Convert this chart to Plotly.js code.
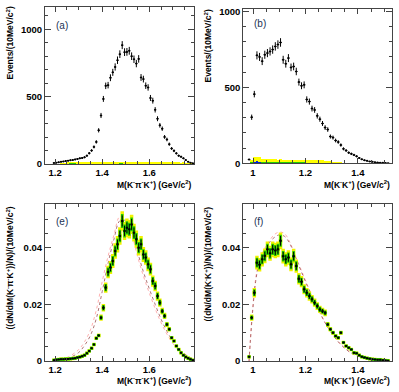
<!DOCTYPE html>
<html>
<head>
<meta charset="utf-8">
<script src="https://cdn.plot.ly/plotly-3.0.1.min.js"></script>
<style>
  html, body { margin: 0; padding: 0; background: #fff; }
  #chart { width: 399px; height: 392px; }
</style>
</head>
<body>
<div id="chart"></div>
<script>
// bin centres, 10 MeV bins
const massKpiK = [1.195,1.205,1.215,1.225,1.235,1.245,1.255,1.265,1.275,1.285,1.295,1.305,1.315,1.325,1.335,1.345,1.355,1.365,1.375,1.385,
  1.395,1.405,1.415,1.425,1.435,1.445,1.455,1.465,1.475,1.485,1.495,1.505,1.515,1.525,1.535,1.545,1.555,1.565,1.575,1.585,
  1.595,1.605,1.615,1.625,1.635,1.645,1.655,1.665,1.675,1.685,1.695,1.705,1.715,1.725,1.735,1.745,1.755,1.765,1.775,1.785];
const massKK = [0.985,0.995,1.005,1.015,1.025,1.035,1.045,1.055,1.065,1.075,1.085,1.095,1.105,1.115,1.125,1.135,1.145,1.155,
  1.165,1.175,1.185,1.195,1.205,1.215,1.225,1.235,1.245,1.255,1.265,1.275,1.285,1.295,1.305,1.315,1.325,1.335,1.345,1.355,
  1.365,1.375,1.385,1.395,1.405,1.415,1.425,1.435,1.445,1.455,1.465,1.475,1.485,1.495,1.505,1.515];

// (a) events per bin
const eventsA = [8,10,13,16,19,22,25,28,30,34,38,42,45,50,62,80,100,127,164,250,
  360,483,580,585,640,680,720,770,815,882,830,832,840,800,777,745,780,642,630,581,
  568,490,470,402,336,287,262,201,182,147,115,98,79,62,54,42,29,17,10,5];
const yellowA = [0,0,0,5,8,10,12,12,13,14,14,15,14,15,13,14,15,14,13,15,
  14,15,16,15,14,16,15,14,15,16,15,14,15,15,14,16,15,14,13,15,
  14,15,14,13,14,15,13,14,12,13,14,12,13,12,11,12,10,9,8,5];
const greenA = [0,0,0,0,0,0,0,4,6,5,0,0,0,0,0,0,0,0,0,0,
  0,0,0,0,0,0,0,0,5,6,0,0,0,0,0,0,0,0,0,0,
  0,0,0,0,0,0,0,0,0,0,0,0,0,0,0,0,0,0,0,0];

// (b) events per bin
const eventsB = [25,303,455,710,700,672,714,725,736,748,769,781,795,681,655,692,631,637,
  604,534,510,516,420,406,360,351,312,290,262,235,222,176,169,150,140,120,95,84,
  70,62,55,46,35,26,20,16,12,10,7,5,4,3,2,1];
const yellowB = [0,20,44,44,40,30,28,27,28,26,27,25,26,24,25,23,24,22,
  24,22,23,24,22,24,22,23,21,22,20,18,15,12,10,9,8,6,4,0,
  0,0,0,0,0,0,0,0,0,0,0,0,0,0,0,0];
const greenB = [0,8,10,11,10,10,10,9,10,10,9,10,10,9,10,9,10,9,
  9,10,9,8,0,0,0,0,0,0,0,0,0,0,0,0,0,0,0,0,
  0,0,0,0,0,0,0,0,0,0,0,0,0,0,0,0];
const blueB = [0,0,10,12,8,0,0,0,0,0,0,0,0,0,0,0,0,0,
  0,0,0,0,0,0,0,0,0,0,0,0,0,0,0,0,0,0,0,0,
  0,0,0,0,0,0,0,0,0,0,0,0,0,0,0,0];

// (e) normalised spectrum
const fracE = [0.0003,0.0004,0.0005,0.0006,0.0006,0.0007,0.0007,0.0008,0.0009,0.0010,0.0012,0.0014,0.0017,0.0020,0.0027,0.0035,0.0045,0.0058,0.0080,0.0090,
  0.0153,0.0188,0.0259,0.0314,0.0330,0.0353,0.0388,0.0412,0.0441,0.0494,0.0459,0.0470,0.0465,0.0482,0.0453,0.0430,0.0400,0.0412,0.0376,0.0365,
  0.0341,0.0324,0.0282,0.0265,0.0229,0.0206,0.0176,0.0159,0.0129,0.0112,0.0082,0.0071,0.0053,0.0041,0.0029,0.0020,0.0014,0.0010,0.0006,0.0003];
const curveMassE = [1.20,1.25,1.30,1.325,1.35,1.375,1.40,1.425,1.45,1.475,1.50,1.525,1.55,1.575,1.60,1.625,1.65,1.675,1.70,1.725,1.75,1.775,1.79];
const mcPinkE = [0.0002,0.0012,0.0040,0.0068,0.0110,0.0180,0.0280,0.0370,0.0445,0.0510,0.0500,0.0450,0.0370,0.0300,0.0240,0.0185,0.0135,0.0095,0.0062,0.0038,0.0022,0.0010,0.0004];
const mcDarkE = [0.0001,0.0008,0.0030,0.0055,0.0090,0.0150,0.0245,0.0345,0.0430,0.0495,0.0495,0.0455,0.0385,0.0315,0.0255,0.0200,0.0148,0.0105,0.0070,0.0043,0.0025,0.0011,0.0004];

// (f) normalised spectrum
const fracF = [0.0015,0.0153,0.0241,0.0347,0.0340,0.0359,0.0371,0.0394,0.0380,0.0394,0.0390,0.0394,0.0424,0.0370,0.0359,0.0365,0.0341,0.0370,
  0.0335,0.0290,0.0280,0.0253,0.0241,0.0229,0.0218,0.0206,0.0194,0.0182,0.0176,0.0170,0.0129,0.0112,0.0100,0.0088,0.0082,0.0100,0.0065,0.0053,
  0.0047,0.0041,0.0029,0.0027,0.0020,0.0015,0.0012,0.0010,0.0008,0.0006,0.0005,0.0004,0.0004,0.0003,0.0002,0.0001];
const curveMassF = [0.985,0.99,1.0,1.01,1.02,1.04,1.06,1.08,1.10,1.12,1.14,1.16,1.18,1.20,1.225,1.25,1.275,1.30,1.325,1.35,1.375,1.40,1.45,1.50];
const mcPinkF = [0,0.008,0.020,0.029,0.034,0.039,0.042,0.0445,0.0455,0.045,0.042,0.0375,0.033,0.0285,0.023,0.018,0.0135,0.0098,0.0068,0.0045,0.0028,0.0017,0.0006,0.0001];
const mcDarkF = [0,0.007,0.019,0.028,0.033,0.038,0.0415,0.0435,0.0445,0.044,0.0415,0.037,0.0325,0.028,0.0228,0.018,0.0135,0.0098,0.0068,0.0045,0.0028,0.0017,0.0006,0.0001];

const W = 399, H = 392;
const px = v => v / W;
const py = v => 1 - v / H;

function bars(x, y, color, xa, ya) {
  return { type: "bar", x, y, xaxis: xa, yaxis: ya, width: 0.01, marker: { color, line: { width: 0 } }, hoverinfo: "skip" };
}

function counts(x, y, xa, ya) {
  return {
    type: "scatter", mode: "markers", x, y, xaxis: xa, yaxis: ya,
    marker: { color: "#000", size: 2 },
    error_y: { type: "sqrt", color: "#000", thickness: 1, width: 0 },
    error_x: { type: "constant", value: 0.005, color: "#000", thickness: 1, width: 0 }
  };
}

function normalised(x, y, xa, ya) {
  return [
    { type: "scatter", mode: "markers", x, y, xaxis: xa, yaxis: ya,
      marker: { color: "#f2f200", size: 3.5, symbol: "square" },
      error_y: { type: "percent", value: 7, color: "#f2f200", thickness: 3.5, width: 0 } },
    { type: "scatter", mode: "markers", x, y, xaxis: xa, yaxis: ya,
      marker: { color: "#22cc00", size: 3, symbol: "square" },
      error_y: { type: "percent", value: 5, color: "#22cc00", thickness: 2.5, width: 0 } },
    { type: "scatter", mode: "markers", x, y, xaxis: xa, yaxis: ya,
      marker: { color: "#000", size: 2, symbol: "square" },
      error_y: { type: "percent", value: 4, color: "#000", thickness: 1, width: 0 },
      error_x: { type: "constant", value: 0.005, color: "#000", thickness: 1, width: 0 } }
  ];
}

function curve(x, y, color, xa, ya) {
  return { type: "scatter", mode: "lines", x, y, xaxis: xa, yaxis: ya,
    line: { color, width: 0.8, dash: "dot", shape: "spline" } };
}

const traces = [
  bars(massKpiK, yellowA, "#ffff00", "x", "y"),
  bars(massKpiK, greenA, "#22cc00", "x", "y"),
  counts(massKpiK, eventsA, "x", "y"),

  bars(massKK, yellowB, "#ffff00", "x2", "y2"),
  bars(massKK, greenB, "#22cc00", "x2", "y2"),
  bars(massKK, blueB, "#0022dd", "x2", "y2"),
  counts(massKK, eventsB, "x2", "y2"),

  curve(curveMassE, mcPinkE, "#ff9a9a", "x3", "y3"),
  curve(curveMassE, mcDarkE, "#9a5050", "x3", "y3"),
  ...normalised(massKpiK, fracE, "x3", "y3"),

  curve(curveMassF, mcPinkF, "#ff9a9a", "x4", "y4"),
  curve(curveMassF, mcDarkF, "#9a5050", "x4", "y4"),
  ...normalised(massKK, fracF, "x4", "y4")
];

const tickFont = { family: "Liberation Sans, Arial, sans-serif", size: 9.5, color: "#000", weight: "bold" };

function xAxis(domain, range, anchor) {
  return {
    domain, range, anchor, dtick: 0.2, tick0: 0,
    ticks: "inside", ticklen: 5, tickwidth: 1, tickcolor: "#444",
    minor: { dtick: 0.05, ticks: "inside", ticklen: 3, tickcolor: "#444" },
    showline: true, mirror: "ticks", linecolor: "#444", linewidth: 1,
    showgrid: false, zeroline: false, tickfont: tickFont, fixedrange: true
  };
}

function yAxis(domain, range, anchor, dtick, minor) {
  return {
    domain, range, anchor, dtick,
    ticks: "inside", ticklen: 6, tickwidth: 1, tickcolor: "#444",
    minor: { dtick: minor, ticks: "inside", ticklen: 3, tickcolor: "#444" },
    showline: true, mirror: "ticks", linecolor: "#444", linewidth: 1,
    showgrid: false, zeroline: false, tickfont: tickFont, fixedrange: true
  };
}

const leftX = [px(45), px(194)];
const rightX = [px(243.3), px(392)];
const topY = [py(164), py(7)];
const topYb = [py(163.3), py(9)];
const botY = [py(361), py(204.3)];

const titleFont = { family: "Liberation Sans, Arial, sans-serif", size: 8.5, color: "#000", weight: "bold" };
const labelFont = { family: "Liberation Sans, Arial, sans-serif", size: 10, color: "#223355" };

const kpik = "M(K<sup>-</sup>π<sup>-</sup>K<sup>+</sup>) (GeV/c<sup>2</sup>)";
const kk = "M(K<sup>-</sup>K<sup>+</sup>) (GeV/c<sup>2</sup>)";

const annotations = [
  { text: kpik, x: px(194), y: py(184), xanchor: "right", yanchor: "middle" },
  { text: kk, x: px(392), y: py(184), xanchor: "right", yanchor: "middle" },
  { text: kpik, x: px(194), y: py(380), xanchor: "right", yanchor: "middle" },
  { text: kk, x: px(392), y: py(380), xanchor: "right", yanchor: "middle" },
  { text: "Events/(10MeV/c<sup>2</sup>)", x: px(10), y: py(5), xanchor: "center", yanchor: "top", textangle: -90 },
  { text: "Events/(10MeV/c<sup>2</sup>)", x: px(208), y: py(8), xanchor: "center", yanchor: "top", textangle: -90 },
  { text: "((dN/dM(K<sup>-</sup>π<sup>-</sup>K<sup>+</sup>))/N)/(10MeV/c<sup>2</sup>)", x: px(10), y: py(205), xanchor: "center", yanchor: "top", textangle: -90 },
  { text: "((dN/dM(K<sup>-</sup>K<sup>+</sup>))/N)/(10MeV/c<sup>2</sup>)", x: px(208), y: py(205), xanchor: "center", yanchor: "top", textangle: -90 }
].map(a => ({ ...a, xref: "paper", yref: "paper", showarrow: false, font: titleFont }));

[["(a)", 54, 25], ["(b)", 252, 24], ["(e)", 54, 221], ["(f)", 252, 221]].forEach(([t, x, y]) => {
  annotations.push({ text: t, x: px(x), y: py(y), xref: "paper", yref: "paper", xanchor: "left", yanchor: "middle", showarrow: false, font: labelFont });
});

const layout = {
  width: W, height: H,
  margin: { l: 0, r: 0, t: 0, b: 0 },
  paper_bgcolor: "#fff", plot_bgcolor: "#fff",
  showlegend: false, barmode: "overlay", bargap: 0,
  xaxis: xAxis(leftX, [1.157, 1.79], "y"),
  yaxis: yAxis(topY, [0, 1165], "x", 500, 100),
  xaxis2: xAxis(rightX, [0.963, 1.53], "y2"),
  yaxis2: yAxis(topYb, [0, 1015], "x2", 500, 100),
  xaxis3: xAxis(leftX, [1.157, 1.79], "y3"),
  yaxis3: yAxis(botY, [0, 0.0553], "x3", 0.02, 0.005),
  xaxis4: xAxis(rightX, [0.963, 1.53], "y4"),
  yaxis4: yAxis(botY, [0, 0.0553], "x4", 0.02, 0.005),
  annotations
};

Plotly.newPlot("chart", traces, layout, { displayModeBar: false, staticPlot: true });
</script>
</body>
</html>
